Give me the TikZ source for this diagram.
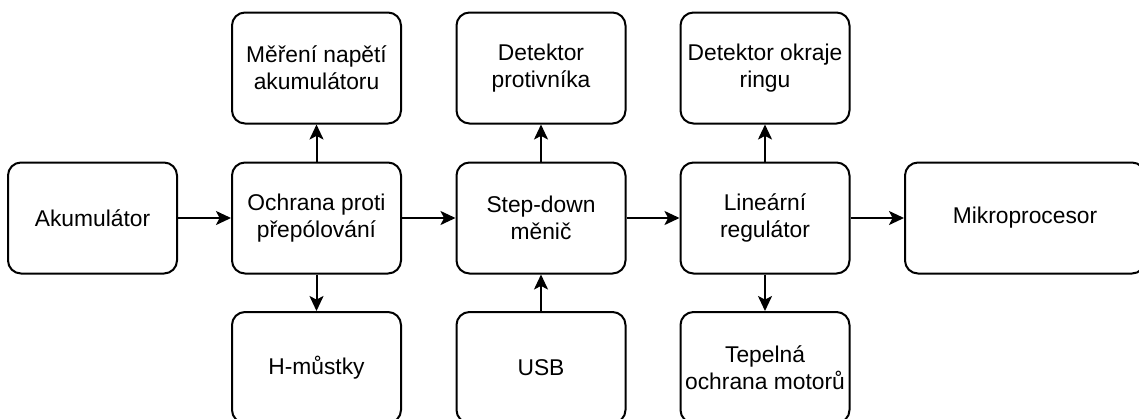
\documentclass[tikz,border=0pt]{standalone}
\usepackage{fontspec}
\setmainfont{Liberation Sans}
\usetikzlibrary{arrows.meta}
\tikzset{
  blk/.style={draw=black, line width=1pt, rounded corners=6.5pt, align=center,
    minimum width=84.5pt, minimum height=55.5pt, inner sep=0pt,
    font=\fontsize{11.4pt}{13.6pt}\selectfont},
  wide/.style={blk, minimum width=120pt},
  arr/.style={line width=1pt, -{Stealth[length=7.5pt, width=7pt, inset=1.8pt]}}
}
\begin{document}
\begin{tikzpicture}[x=0.5pt, y=-0.5pt]
\useasboundingbox (0,0) rectangle (1139,418);
\clip (0,0) rectangle (1139,418);
% middle row
\node[blk] (akum) at (92.5,218) {Akumulátor};
\node[blk] (ochr) at (316.5,218) {Ochrana proti\\přepólování};
\node[blk] (step) at (541,218) {Step-down\\měnič};
\node[blk] (lin) at (765,218) {Lineární\\regulátor};
\node[wide] (mcu) at (1025,218) {Mikroprocesor};
% top row
\node[blk] (mer) at (316.5,68) {Měření napětí\\akumulátoru};
\node[blk] (det) at (541,68) {Detektor\\protivníka};
\node[blk] (okr) at (765,68) {Detektor okraje\\ringu};
% bottom row
\node[blk] (hm) at (316.5,367.5) {H-můstky};
\node[blk] (usb) at (541,367.5) {USB};
\node[blk] (tep) at (765,367.5) {Tepelná\\ochrana motorů};
% connectors
\draw[arr] (akum) -- (ochr);
\draw[arr] (ochr) -- (step);
\draw[arr] (step) -- (lin);
\draw[arr] (lin) -- (mcu);
\draw[arr] (ochr) -- (mer);
\draw[arr] (ochr) -- (hm);
\draw[arr] (step) -- (det);
\draw[arr] (usb) -- (step);
\draw[arr] (lin) -- (okr);
\draw[arr] (lin) -- (tep);
\end{tikzpicture}
\end{document}
